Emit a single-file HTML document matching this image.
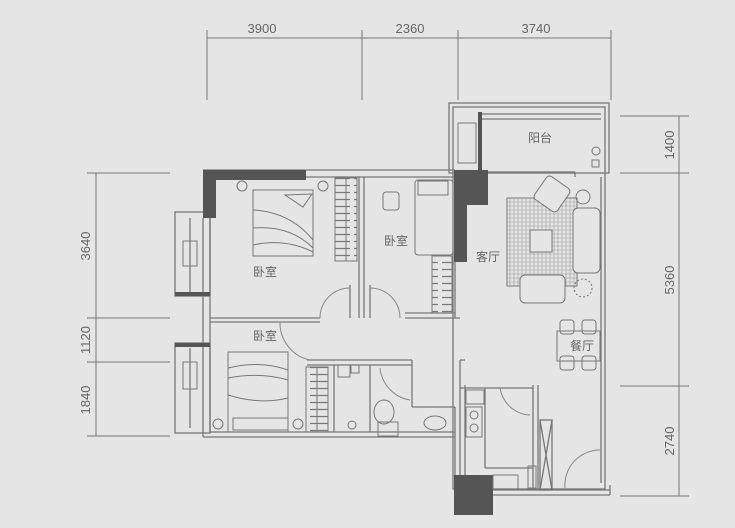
<!DOCTYPE html>
<html><head><meta charset="utf-8"><style>
html,body{margin:0;padding:0;background:#e6e5e6;}
svg{display:block;}
text{font-family:"Liberation Sans","Noto Sans CJK SC",sans-serif;fill:#666;}
</style></head><body>
<svg width="735" height="528" viewBox="0 0 735 528" xmlns="http://www.w3.org/2000/svg">
<defs>
<pattern id="rung" width="22" height="7" patternUnits="userSpaceOnUse">
<line x1="2" y1="3.5" x2="20" y2="3.5" stroke="#777" stroke-width="1.2"/>
</pattern>
<pattern id="hatch" width="4" height="4" patternUnits="userSpaceOnUse">
<path d="M0 2H4M2 0V4" stroke="#999" stroke-width="0.6"/>
</pattern>
</defs>
<rect width="735" height="528" fill="#e6e5e6"/>
<g stroke="#777" stroke-width="1" fill="none">
<line x1="207" y1="38" x2="611" y2="38"/>
<line x1="207" y1="30" x2="207" y2="100"/>
<line x1="362" y1="30" x2="362" y2="100"/>
<line x1="458" y1="30" x2="458" y2="100"/>
<line x1="611" y1="30" x2="611" y2="100"/>
<line x1="96" y1="173" x2="96" y2="436"/>
<line x1="87" y1="173" x2="170" y2="173"/>
<line x1="87" y1="318" x2="170" y2="318"/>
<line x1="87" y1="362" x2="170" y2="362"/>
<line x1="87" y1="436" x2="170" y2="436"/>
<line x1="679" y1="116" x2="679" y2="496"/>
<line x1="620" y1="116" x2="689" y2="116"/>
<line x1="620" y1="173" x2="689" y2="173"/>
<line x1="620" y1="386" x2="689" y2="386"/>
<line x1="620" y1="496" x2="689" y2="496"/>
</g>
<g font-size="13">
<text x="262" y="33" text-anchor="middle">3900</text>
<text x="410" y="33" text-anchor="middle">2360</text>
<text x="536" y="33" text-anchor="middle">3740</text>
<text transform="translate(90,246) rotate(-90)" text-anchor="middle">3640</text>
<text transform="translate(90,340) rotate(-90)" text-anchor="middle">1120</text>
<text transform="translate(90,400) rotate(-90)" text-anchor="middle">1840</text>
<text transform="translate(674,145) rotate(-90)" text-anchor="middle">1400</text>
<text transform="translate(674,280) rotate(-90)" text-anchor="middle">5360</text>
<text transform="translate(674,441) rotate(-90)" text-anchor="middle">2740</text>
</g>
<g stroke="#777" stroke-width="1.3" fill="none">
<rect x="449" y="103" width="160" height="70"/>
<rect x="453" y="107" width="152" height="382"/>
<line x1="480" y1="119" x2="601" y2="119"/>
<line x1="480" y1="114" x2="601" y2="114"/>
<line x1="488" y1="172" x2="575" y2="172"/>
<line x1="575" y1="172" x2="575" y2="177"/>
<line x1="601" y1="177" x2="601" y2="483"/>
<line x1="203" y1="170" x2="455" y2="170"/>
<line x1="215" y1="177" x2="455" y2="177"/>
<line x1="203" y1="218" x2="203" y2="437"/>
<line x1="210" y1="218" x2="210" y2="432"/>
<rect x="175" y="212" width="35" height="84"/>
<rect x="175" y="343" width="35" height="90"/>
<line x1="190" y1="218" x2="190" y2="292"/>
<line x1="190" y1="348" x2="190" y2="428"/>
<line x1="359" y1="177" x2="359" y2="318"/>
<line x1="364" y1="177" x2="364" y2="318"/>
<line x1="210" y1="318" x2="320" y2="318"/>
<line x1="210" y1="322" x2="320" y2="322"/>
<line x1="350" y1="285" x2="350" y2="318"/>
<line x1="370" y1="285" x2="370" y2="318"/>
<line x1="405" y1="318" x2="460" y2="318"/>
<line x1="405" y1="313" x2="455" y2="313"/>
<line x1="455" y1="262" x2="455" y2="318"/>
<line x1="203" y1="437" x2="455" y2="437"/>
<line x1="210" y1="432" x2="455" y2="432"/>
<line x1="307" y1="360" x2="412" y2="360"/>
<line x1="307" y1="365" x2="412" y2="365"/>
<line x1="334" y1="365" x2="334" y2="432"/>
<line x1="370" y1="365" x2="370" y2="432"/>
<line x1="412" y1="360" x2="412" y2="407"/>
<line x1="412" y1="407" x2="455" y2="407"/>
<line x1="455" y1="407" x2="455" y2="475"/>
<line x1="460" y1="360" x2="460" y2="475"/>
<line x1="460" y1="360" x2="465" y2="360"/>
<line x1="460" y1="388" x2="533" y2="388"/>
<line x1="465" y1="385" x2="465" y2="480"/>
<line x1="533" y1="385" x2="533" y2="490"/>
<line x1="538" y1="385" x2="538" y2="490"/>
<line x1="485" y1="468" x2="533" y2="468"/>
<line x1="485" y1="388" x2="485" y2="468"/>
<rect x="540" y="420" width="12" height="70"/>
<line x1="540" y1="420" x2="552" y2="490"/><line x1="552" y1="420" x2="540" y2="490"/>
<line x1="493" y1="490" x2="610" y2="490"/>
<line x1="493" y1="495" x2="610" y2="495"/>
<line x1="610" y1="485" x2="610" y2="495"/>
</g>
<g fill="#555">
<rect x="203" y="170" width="103" height="10"/>
<rect x="203" y="170" width="13" height="48"/>
<rect x="454" y="170" width="34" height="35"/>
<rect x="454" y="170" width="13" height="92"/>
<rect x="454" y="475" width="39" height="40"/>
<rect x="175" y="292" width="35" height="4"/>
<rect x="175" y="343" width="35" height="4"/>
<rect x="478" y="112" width="4" height="62"/>
</g>
<g stroke="#888" stroke-width="1" fill="none">
<path d="M320 318 A30 30 0 0 1 350 288"/>
<path d="M370 288 A30 30 0 0 1 400 318"/>
<path d="M280 322 A38 38 0 0 0 310 360"/>
<path d="M380 368 A36 36 0 0 0 410 400"/>
<path d="M500 388 A32 32 0 0 0 530 415"/>
<path d="M565 488 A35 35 0 0 1 600 450"/>
</g>
<rect x="335" y="178" width="22" height="83" fill="url(#rung)"/>
<rect x="432" y="256" width="20" height="57" fill="url(#rung)"/>
<rect x="306" y="367" width="22" height="65" fill="url(#rung)"/>
<rect x="507" y="198" width="70" height="88" fill="url(#hatch)"/>
<g stroke="#777" stroke-width="1" fill="none">
<rect x="253" y="190" width="60" height="66"/>
<path d="M253 210 Q290 212 313 240 M253 228 Q290 225 313 248 M253 245 Q285 238 313 252"/>
<path d="M285 195 L312 194 L303 207 Z"/>
<circle cx="242" cy="186" r="5"/><circle cx="323" cy="186" r="5"/>
<rect x="335" y="178" width="22" height="83"/>
<line x1="346" y1="178" x2="346" y2="261"/>
<rect x="432" y="256" width="20" height="57"/>
<rect x="415" y="180" width="38" height="75" rx="3"/>
<rect x="418" y="181" width="30" height="14"/>
<rect x="383" y="192" width="16" height="18" rx="3"/>
<rect x="228" y="352" width="60" height="80"/>
<path d="M228 368 Q260 360 288 370 M228 378 Q260 372 288 380 M228 395 Q260 405 288 398"/>
<rect x="233" y="418" width="55" height="12"/>
<circle cx="218" cy="424" r="5"/><circle cx="298" cy="424" r="5"/>
<rect x="306" y="367" width="22" height="65"/>
<line x1="317" y1="367" x2="317" y2="432"/>
<rect x="338" y="365" width="12" height="12"/><rect x="351" y="365" width="8" height="8"/>
<circle cx="352" cy="425" r="4"/>
<ellipse cx="384" cy="412" rx="10" ry="12"/>
<rect x="378" y="422" width="20" height="14"/>
<ellipse cx="435" cy="423" rx="11" ry="7"/>
<rect x="466" y="390" width="18" height="14"/>
<rect x="466" y="407" width="16" height="30"/>
<circle cx="474" cy="415" r="4"/><circle cx="474" cy="428" r="4"/>
<rect x="493" y="475" width="25" height="14"/>
<rect x="528" y="466" width="8" height="22"/>
<rect x="507" y="198" width="70" height="88"/>
<rect x="530" y="230" width="22" height="22" fill="#e6e5e6"/>
<rect x="573" y="208" width="27" height="65" rx="5" fill="#e6e5e6"/>
<rect x="520" y="275" width="45" height="28" rx="5" fill="#e6e5e6"/>
<rect x="538" y="180" width="28" height="28" rx="4" transform="rotate(35 552 194)" fill="#e6e5e6"/>
<circle cx="583" cy="197" r="7"/>
<circle cx="583" cy="288" r="9" stroke-dasharray="2 2"/>
<rect x="557" y="331" width="43" height="30"/>
<rect x="560" y="320" width="14" height="14" rx="3"/><rect x="582" y="320" width="14" height="14" rx="3"/>
<rect x="560" y="356" width="14" height="14" rx="3"/><rect x="582" y="356" width="14" height="14" rx="3"/>
<rect x="458" y="123" width="18" height="40"/>
<rect x="183" y="241" width="14" height="25"/>
<rect x="183" y="362" width="14" height="27"/>
<circle cx="596" cy="151" r="4"/><rect x="592" y="160" width="7" height="7"/>
</g>
<g font-size="12">
<text x="265" y="276" text-anchor="middle">卧室</text>
<text x="396" y="245" text-anchor="middle">卧室</text>
<text x="265" y="340" text-anchor="middle">卧室</text>
<text x="488" y="261" text-anchor="middle">客厅</text>
<text x="540" y="142" text-anchor="middle">阳台</text>
<text x="582" y="350" text-anchor="middle">餐厅</text>
</g>
</svg>
</body></html>
